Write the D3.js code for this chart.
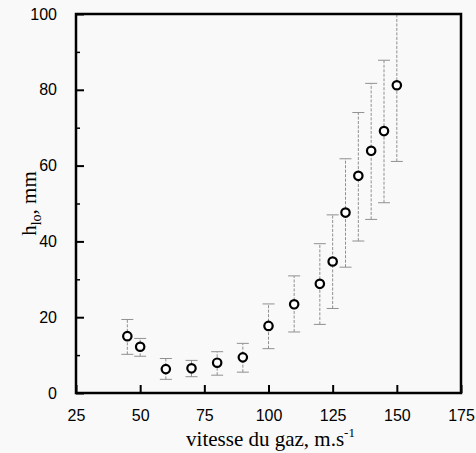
<!DOCTYPE html>
<html>
<head>
<meta charset="utf-8">
<script src="https://cdn.jsdelivr.net/npm/d3@7"></script>
<style>
  html, body { margin: 0; padding: 0; background: #f9f9f9; }
  svg { display: block; }
</style>
</head>
<body>
<script>
const vitesse = [45, 50, 60, 70, 80, 90, 100, 110, 120, 125, 130, 135, 140, 145, 150];
const hlo     = [15.0, 12.2, 6.3, 6.5, 8.0, 9.4, 17.7, 23.4, 28.8, 34.7, 47.6, 57.3, 63.9, 69.1, 81.2];
const errLow  = [10.2, 9.7, 3.6, 4.3, 4.7, 5.5, 11.7, 16.1, 18.1, 22.3, 33.2, 40.1, 45.8, 50.2, 61.1];
const errHigh = [19.4, 14.4, 9.1, 8.6, 10.9, 13.1, 23.5, 30.9, 39.4, 47.0, 61.8, 74.0, 81.7, 87.8, 104];
const xTicks = [25, 50, 75, 100, 125, 150, 175];
const yTicks = [0, 20, 40, 60, 80, 100];
const yMinorTicks = [10, 30, 50, 70, 90];

const W = 476, H = 453;
const m = {left: 76, right: 15, top: 14, bottom: 60};

const svg = d3.select("body").append("svg").attr("width", W).attr("height", H);

const x = d3.scaleLinear().domain([25, 175]).range([m.left, W - m.right]);
const y = d3.scaleLinear().domain([0, 100]).range([H - m.bottom, m.top]);

svg.append("clipPath").attr("id", "clip").append("rect")
  .attr("x", x(25)).attr("y", y(100)).attr("width", x(175) - x(25)).attr("height", y(0) - y(100));

const data = vitesse.map((v, i) => ({v, h: hlo[i], lo: errLow[i], hi: errHigh[i]}));

const eb = svg.append("g").attr("clip-path", "url(#clip)")
  .attr("stroke", "#909090").attr("stroke-width", 1).attr("fill", "none");
data.forEach(d => {
  eb.append("line").attr("x1", x(d.v)).attr("x2", x(d.v)).attr("y1", y(d.lo)).attr("y2", y(d.hi))
    .attr("stroke-dasharray", "3,1.5");
  eb.append("line").attr("x1", x(d.v) - 6).attr("x2", x(d.v) + 6).attr("y1", y(d.lo)).attr("y2", y(d.lo));
  eb.append("line").attr("x1", x(d.v) - 6).attr("x2", x(d.v) + 6).attr("y1", y(d.hi)).attr("y2", y(d.hi));
});

svg.append("g").selectAll("circle").data(data).join("circle")
  .attr("cx", d => x(d.v)).attr("cy", d => y(d.h)).attr("r", 4.2)
  .attr("fill", "#fff").attr("stroke", "#000").attr("stroke-width", 2.2);

// frame
const x0 = x(25), x1 = x(175), y0 = y(0), y1 = y(100);
svg.append("rect").attr("x", x0).attr("y", y1).attr("width", x1 - x0).attr("height", y0 - y1)
  .attr("fill", "none").attr("stroke", "#000").attr("stroke-width", 2.5);

// x axis
const xAxis = svg.append("g").attr("transform", `translate(0,${y(0)})`)
  .call(d3.axisBottom(x).tickValues(xTicks).tickSizeInner(-8).tickSizeOuter(0).tickPadding(17));
xAxis.select(".domain").remove();
xAxis.selectAll(".tick line").attr("stroke-width", 2);
xAxis.selectAll(".tick text").attr("font-family", "Liberation Sans, Arial, sans-serif").attr("font-size", 16).attr("fill", "#000");

// y axis
const yAxis = svg.append("g").attr("transform", `translate(${x(25)},0)`)
  .call(d3.axisLeft(y).tickValues(yTicks).tickSizeInner(-8).tickSizeOuter(0).tickPadding(19));
yAxis.select(".domain").remove();
yAxis.selectAll(".tick line").attr("stroke-width", 2);
yAxis.selectAll(".tick text").attr("font-family", "Liberation Sans, Arial, sans-serif").attr("font-size", 16).attr("fill", "#000");

const yMinor = svg.append("g").attr("transform", `translate(${x(25)},0)`)
  .call(d3.axisLeft(y).tickValues(yMinorTicks).tickSizeInner(-4).tickSizeOuter(0).tickFormat(""));
yMinor.select(".domain").remove();
yMinor.selectAll(".tick line").attr("stroke-width", 1.5);

// titles
const xt = svg.append("text").attr("x", (x(25) + x(175)) / 2 + 2).attr("y", 446)
  .attr("text-anchor", "middle").attr("font-family", "Liberation Serif, Times New Roman, serif")
  .attr("font-size", 21).attr("fill", "#000");
xt.append("tspan").text("vitesse du gaz, m.s");
xt.append("tspan").attr("dy", -9).attr("font-size", 13).text("-1");

const yt = svg.append("text").attr("transform", `translate(36,${(y(0) + y(100)) / 2}) rotate(-90)`)
  .attr("text-anchor", "middle").attr("font-family", "Liberation Serif, Times New Roman, serif")
  .attr("font-size", 21).attr("fill", "#000");
yt.append("tspan").text("h");
yt.append("tspan").attr("dy", 5).attr("font-size", 14).text("lo");
yt.append("tspan").attr("dy", -5).text(", mm");
</script>
</body>
</html>
